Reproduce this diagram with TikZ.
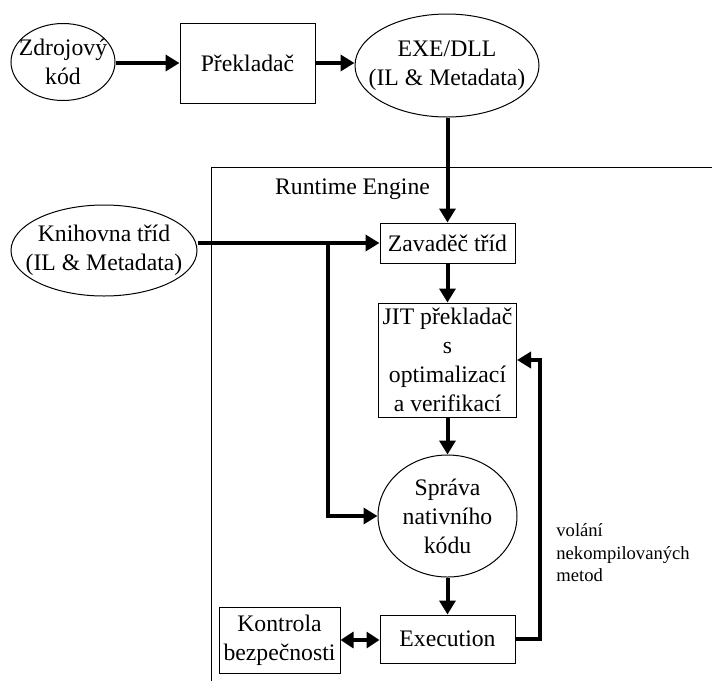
\documentclass[tikz,border=0pt]{standalone}
\usepackage{fontspec}
\setmainfont{Liberation Serif}
\usetikzlibrary{arrows.meta,shapes.geometric}

\begin{document}
\begin{tikzpicture}[x=0.5pt, y=-0.5pt,
  font=\fontsize{11.85pt}{14.5pt}\selectfont,
  box/.style={draw, line width=0.5pt, inner sep=0pt, align=center},
  ell/.style={draw, ellipse, line width=0.5pt, inner sep=0pt},
  flow/.style={-{Triangle[length=7pt, width=8pt]}, line width=2pt},
  both/.style={{Triangle[length=6.5pt, width=8pt]}-{Triangle[length=6.5pt, width=8pt]}, line width=2pt},
  note/.style={font=\fontsize{9.3pt}{11.2pt}\selectfont, align=left, inner sep=0pt}]
  \useasboundingbox (0,0) rectangle (712,681);
  % runtime frame (only top and left edge visible)
  \draw[line width=0.5pt] (211,681) |- (712,167);
  \node[inner sep=0pt] (rte) at (352.5,189.5) {Runtime Engine};

  \node[ell, minimum width=52pt, minimum height=38.5pt,
        label={[align=center]center:Zdrojový\\kód}] (src) at (63,62) {};
  \node[box, minimum width=67.5pt, minimum height=40pt] (comp) at (247.5,63) {Překladač};
  \node[ell, minimum width=92pt, minimum height=51.5pt,
        label={[align=center]center:EXE/DLL\\(IL \& Metadata)}] (exe) at (447,65.5) {};
  \node[ell, minimum width=93pt, minimum height=45.5pt,
        label={[align=center]center:Knihovna tříd\\(IL \& Metadata)}] (lib) at (104,250.5) {};

  \node[box, minimum width=67.5pt, minimum height=20pt] (loader) at (447.5,243) {Zavaděč tříd};
  \node[box, minimum width=69pt, minimum height=57pt] (jit) at (447.5,360)
    {JIT překladač\\s\\optimalizací\\a verifikací};
  \node[ell, minimum width=69.5pt, minimum height=61pt,
        label={[align=center]center:Správa\\nativního\\kódu}] (mgr) at (447.5,516) {};
  \node[box, minimum width=67.5pt, minimum height=24pt] (exec) at (447.5,639) {Execution};
  \node[box, minimum width=60.5pt, minimum height=33pt] (sec) at (279.5,640) {Kontrola\\bezpečnosti};
  \node[note, anchor=west] (calls) at (556,553) {volání\\nekompilovaných\\metod};

  \coordinate (fork) at (328,0 |- loader.west);

  \draw[flow] (src.east |- comp.west) -- (comp.west);
  \draw[flow] (comp.east) -- (comp.east -| exe.west);
  \draw[flow] (loader.north |- exe.south) -- (loader.north);
  \draw[flow] (lib.east |- loader.west) -- (loader.west);
  \draw[flow] (fork) |- (mgr.west);
  \draw[flow] (loader) -- (jit);
  \draw[flow] (jit) -- (mgr);
  \draw[flow] (mgr) -- (exec);
  \draw[both] (sec.east) -- (sec.east -| exec.west);
  \draw[flow] (exec.east) -- ++(24,0) |- (jit.east);
\end{tikzpicture}
\end{document}
